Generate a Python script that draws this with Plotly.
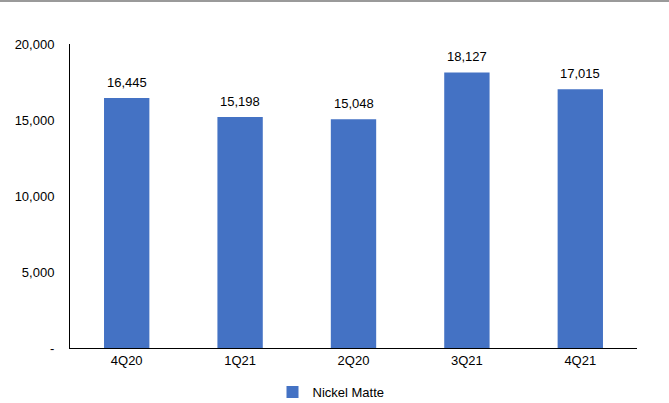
import plotly.graph_objects as go

categories = ["4Q20", "1Q21", "2Q20", "3Q21", "4Q21"]
nickel_matte = [16445, 15198, 15048, 18127, 17015]
y_tickvals = [0, 5000, 10000, 15000, 20000]
y_ticktext = ["-", "5,000", "10,000", "15,000", "20,000"]

fig = go.Figure()
fig.add_trace(go.Bar(
    x=categories, y=nickel_matte, name="Nickel Matte",
    marker=dict(color="#4472C4", line=dict(width=0)),
))

for c, v in zip(categories, nickel_matte):
    fig.add_annotation(x=c, y=v, text=f"{v:,}", showarrow=False,
                       yanchor="bottom", yshift=6, font=dict(size=13, color="#000000"))

fig.update_layout(
    width=669, height=403,
    margin=dict(l=70, r=32, t=44, b=55, autoexpand=False),
    paper_bgcolor="white", plot_bgcolor="white",
    font=dict(family="Liberation Sans, Arial, sans-serif", size=13, color="#000000"),
    bargap=0.6,
    showlegend=True,
    legend=dict(orientation="h", xref="container", yref="container",
                x=(336 - 5) / 669, xanchor="center", y=1 - 392 / 403, yanchor="middle",
                font=dict(size=13), itemwidth=30),
    xaxis=dict(showline=True, linecolor="#000000", linewidth=1, ticks="",
               showgrid=False, tickfont=dict(size=13), automargin=False),
    yaxis=dict(range=[0, 20000], tickvals=y_tickvals, ticktext=y_ticktext,
               showline=True, linecolor="#000000", linewidth=1, ticks="",
               showgrid=False, zeroline=False, tickfont=dict(size=13), ticklabelstandoff=12,
               automargin=False),
    shapes=[dict(type="line", xref="paper", yref="paper", x0=-70/567, x1=1+32/567,
                 y0=1+43/304, y1=1+43/304, line=dict(color="#9a9a9a", width=2))],
)

fig.write_html("out.html")
